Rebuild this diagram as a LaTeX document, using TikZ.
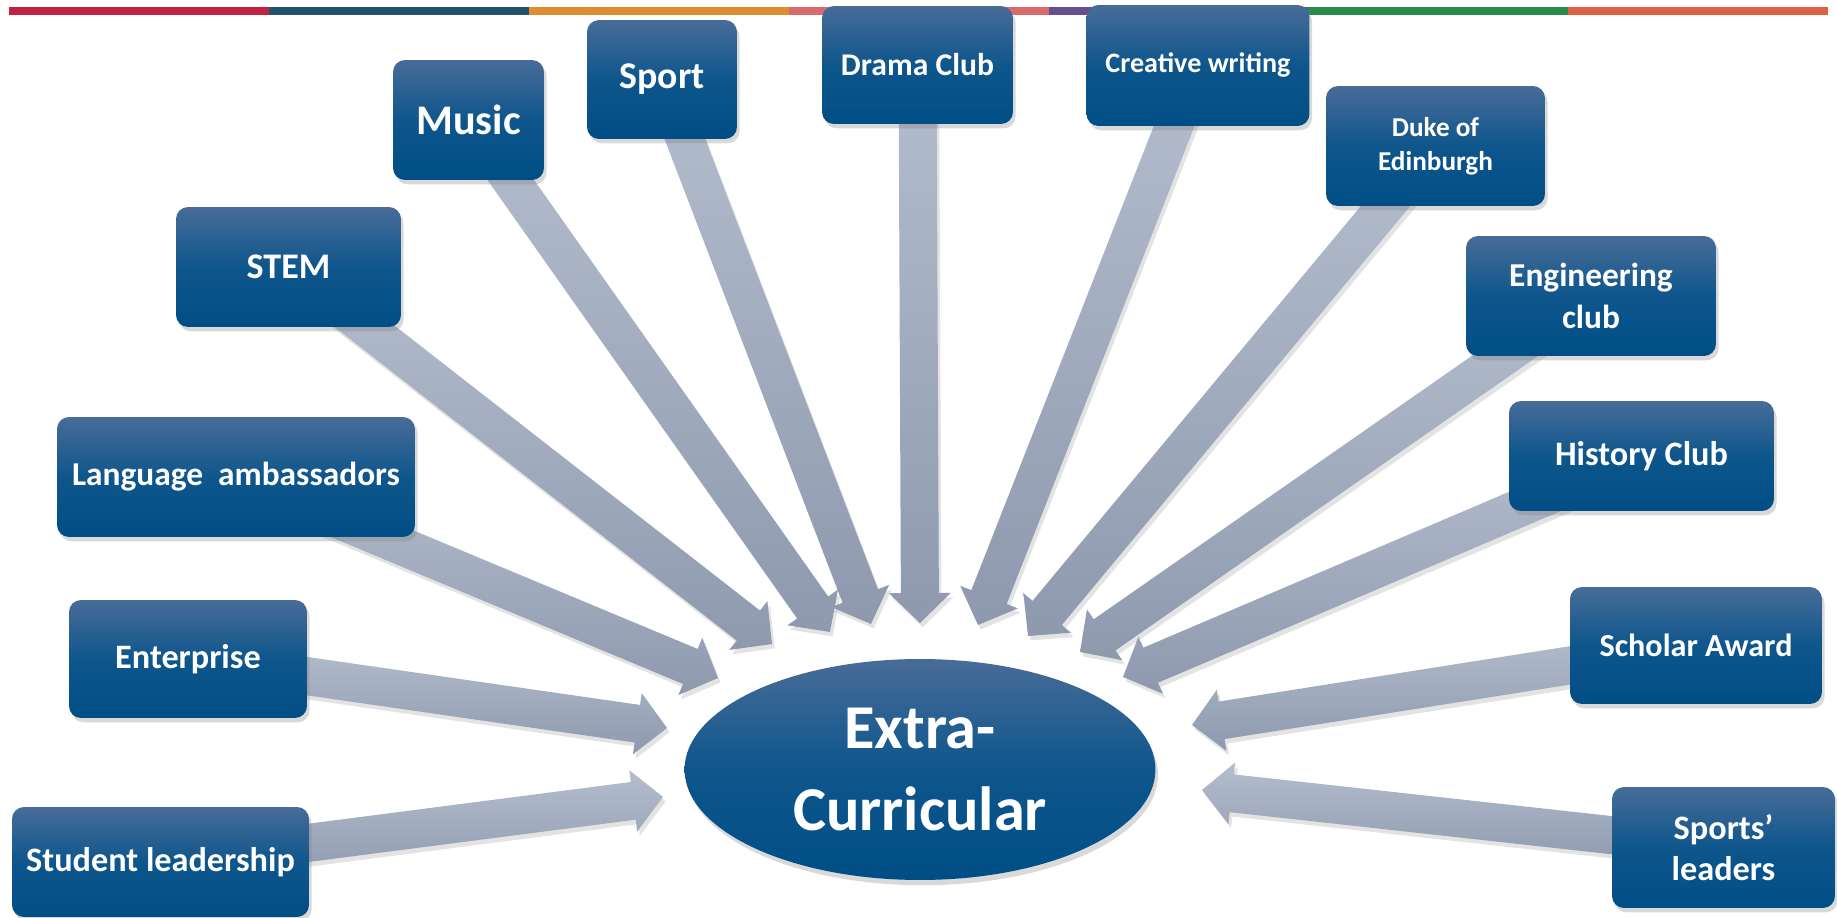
\documentclass[tikz,border=0pt]{standalone}
\usepackage{fontspec}
\setmainfont{Carlito}
\usetikzlibrary{calc,shadows,backgrounds,shapes.geometric}

\definecolor{boxtop}{RGB}{72,108,152}
\definecolor{boxmid}{RGB}{14,86,140}
\definecolor{boxbot}{RGB}{0,78,134}
\definecolor{arrowtop}{RGB}{180,190,205}
\definecolor{arrowbot}{RGB}{142,153,174}
\definecolor{barA}{RGB}{192,34,64}
\definecolor{barB}{RGB}{35,81,110}
\definecolor{barC}{RGB}{226,140,48}
\definecolor{barD}{RGB}{217,106,110}
\definecolor{barE}{RGB}{103,78,142}
\definecolor{barF}{RGB}{42,139,78}
\definecolor{barG}{RGB}{224,96,67}

\tikzset{
  clubbox/.style={rectangle, rounded corners=0.24cm, inner sep=0pt, align=center, text=white,
    top color=boxtop, bottom color=boxbot, middle color=boxmid,
    drop shadow={opacity=0.3, shadow xshift=1.5pt, shadow yshift=-2.5pt}},
  hub/.style={ellipse, inner sep=0pt, align=center, text=white,
    top color=boxtop, bottom color=boxbot, middle color=boxmid,
    drop shadow={opacity=0.3, shadow xshift=1.5pt, shadow yshift=-3pt}},
  bigarrow/.style={draw=none, top color=arrowtop, bottom color=arrowbot,
    drop shadow={opacity=0.22, shadow xshift=1.5pt, shadow yshift=-2.5pt},
    to path={($(\tikztostart)!0.38cm!90:(\tikztotarget)$)
      -- ($(\tikztotarget)!0.71cm!-32.35:(\tikztostart)$)
      -- ($(\tikztotarget)!0.863cm!-45.9:(\tikztostart)$)
      -- (\tikztotarget)
      -- ($(\tikztotarget)!0.863cm!45.9:(\tikztostart)$)
      -- ($(\tikztotarget)!0.71cm!32.35:(\tikztostart)$)
      -- ($(\tikztostart)!0.38cm!-90:(\tikztotarget)$) -- cycle}}
}

\begin{document}
\begin{tikzpicture}[x=0.02cm, y=-0.02cm]
\useasboundingbox (0,0) rectangle (1837,918);
% colour strip along the top
\fill[barA] (9,7) rectangle (269,15);
\fill[barB] (269,7) rectangle (529,15);
\fill[barC] (529,7) rectangle (789,15);
\fill[barD] (789,7) rectangle (1049,15);
\fill[barE] (1049,7) rectangle (1308,15);
\fill[barF] (1308,7) rectangle (1568,15);
\fill[barG] (1568,7) rectangle (1828,15);
% clubs
\node[clubbox, minimum width=4.50cm, minimum height=2.40cm, font=\bfseries\fontsize{20.5}{25}\selectfont] (stem) at (288.5,267) {STEM};
\node[clubbox, minimum width=3.02cm, minimum height=2.40cm, font=\bfseries\fontsize{24}{29}\selectfont] (music) at (468.5,120) {Music};
\node[clubbox, minimum width=3.00cm, minimum height=2.38cm, font=\bfseries\fontsize{21.5}{26}\selectfont] (sport) at (662,79.5) {Sport};
\node[clubbox, minimum width=3.82cm, minimum height=2.36cm, font=\bfseries\fontsize{18}{22}\selectfont] (drama) at (917.5,65) {Drama Club};
\node[clubbox, minimum width=4.46cm, minimum height=2.42cm, font=\bfseries\fontsize{16}{20}\selectfont] (creative) at (1198,65.5) {Creative writing};
\node[clubbox, minimum width=4.38cm, minimum height=2.40cm, font=\bfseries\fontsize{15.5}{19.5}\selectfont] (duke) at (1435.5,146) {Duke of\\Edinburgh};
\node[clubbox, minimum width=5.00cm, minimum height=2.40cm, font=\bfseries\fontsize{19}{23.5}\selectfont] (engineering) at (1591,296) {Engineering\\club};
\node[clubbox, minimum width=7.16cm, minimum height=2.40cm, font=\bfseries\fontsize{19}{23}\selectfont] (language) at (236,477) {Language~ ambassadors};
\node[clubbox, minimum width=5.30cm, minimum height=2.20cm, font=\bfseries\fontsize{19.5}{23}\selectfont] (history) at (1641.5,456) {History Club};
\node[clubbox, minimum width=4.76cm, minimum height=2.36cm, font=\bfseries\fontsize{19.5}{23}\selectfont] (enterprise) at (188,659) {Enterprise};
\node[clubbox, minimum width=5.04cm, minimum height=2.34cm, font=\bfseries\fontsize{18.3}{22}\selectfont] (scholar) at (1696,645.5) {Scholar Award};
\node[clubbox, minimum width=5.94cm, minimum height=2.20cm, font=\bfseries\fontsize{19.5}{23}\selectfont] (student) at (160.5,862) {Student leadership};
\node[clubbox, minimum width=4.46cm, minimum height=2.42cm, font=\bfseries\fontsize{19.5}{23}\selectfont] (sports) at (1723.5,847.5) {Sports’\\leaders};
% centre
\node[hub, minimum width=9.42cm, minimum height=4.42cm, font=\bfseries\fontsize{35.5}{46.5}\selectfont] (extra) at (920,769.5) {Extra-\\Curricular};
% arrow tips round the centre
\coordinate (tlanguage) at (718,678);
\coordinate (tstem) at (772,644);
\coordinate (tmusic) at (830,632);
\coordinate (tsport) at (871,624);
\coordinate (tdrama) at (920,623);
\coordinate (tcreative) at (978,625);
\coordinate (tduke) at (1028,636);
\coordinate (tengineering) at (1080,652);
\coordinate (thistory) at (1123,677);
\coordinate (tenterprise) at (667,728);
\coordinate (tstudent) at (663,797);
\coordinate (tscholar) at (1192,725);
\coordinate (tsports) at (1202,790);
\begin{scope}[on background layer]
\path (language.center) edge[bigarrow] (tlanguage);
\path (stem.center) edge[bigarrow] (tstem);
\path (music.center) edge[bigarrow] (tmusic);
\path (sport.center) edge[bigarrow] (tsport);
\path (drama.center) edge[bigarrow] (tdrama);
\path (creative.center) edge[bigarrow] (tcreative);
\path (duke.center) edge[bigarrow] (tduke);
\path (engineering.center) edge[bigarrow] (tengineering);
\path (history.center) edge[bigarrow] (thistory);
\path (enterprise.center) edge[bigarrow] (tenterprise);
\path (student.center) edge[bigarrow] (tstudent);
\path (scholar.center) edge[bigarrow] (tscholar);
\path (sports.center) edge[bigarrow] (tsports);
\end{scope}
\end{tikzpicture}
\end{document}
